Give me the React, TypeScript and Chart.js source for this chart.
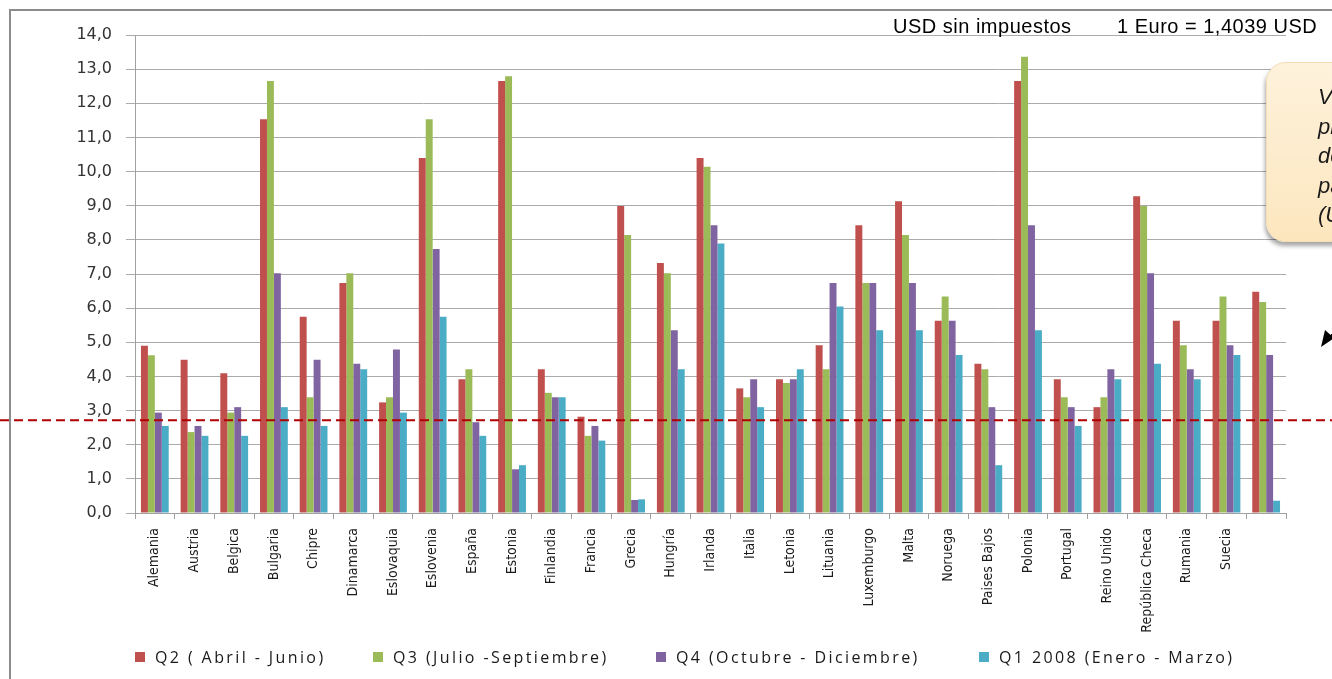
import React, { useEffect, useRef } from "react";
import { Chart, registerables } from "chart.js";

Chart.register(...registerables);

// ---- Data ----
const categories = [
  "Alemania", "Austria", "Belgica", "Bulgaria", "Chipre", "Dinamarca", "Eslovaquia",
  "Eslovenia", "España", "Estonia", "Finlandia", "Francia", "Grecia", "Hungría",
  "Irlanda", "Italia", "Letonia", "Lituania", "Luxemburgo", "Malta", "Noruega",
  "Paises Bajos", "Polonia", "Portugal", "Reino Unido", "República Checa", "Rumania",
  "Suecia", "",
];

const q2Values = [4.90, 4.49, 4.09, 11.53, 5.75, 6.74, 3.24, 10.40, 3.92, 12.65, 4.21, 2.82, 8.99, 7.32, 10.40, 3.65, 3.92, 4.91, 8.43, 9.13, 5.63, 4.37, 12.65, 3.92, 3.10, 9.28, 5.63, 5.63, 6.48];
const q3Values = [4.62, 2.37, 2.94, 12.65, 3.39, 7.02, 3.39, 11.53, 4.21, 12.79, 3.52, 2.26, 8.14, 7.02, 10.14, 3.39, 3.81, 4.21, 6.74, 8.14, 6.34, 4.21, 13.36, 3.39, 3.39, 8.99, 4.91, 6.34, 6.18];
const q4Values = [2.94, 2.55, 3.10, 7.02, 4.49, 4.37, 4.79, 7.73, 2.66, 1.28, 3.39, 2.55, 0.38, 5.35, 8.43, 3.92, 3.92, 6.74, 6.74, 6.74, 5.63, 3.10, 8.43, 3.10, 4.21, 7.02, 4.21, 4.91, 4.63];
const q1Values = [2.55, 2.26, 2.26, 3.10, 2.55, 4.21, 2.94, 5.75, 2.26, 1.40, 3.39, 2.12, 0.40, 4.21, 7.89, 3.10, 4.21, 6.05, 5.35, 5.35, 4.63, 1.40, 5.35, 2.55, 3.92, 4.37, 3.92, 4.63, 0.36];

const seriesLabels = [
  "Q2 ( Abril - Junio)",
  "Q3 (Julio -Septiembre)",
  "Q4 (Octubre - Diciembre)",
  "Q1 2008 (Enero - Marzo)",
];
const seriesColors = ["#C0504D", "#9BBB59", "#8064A2", "#4BACC6"];
const seriesValues = [q2Values, q3Values, q4Values, q1Values];

const yMin = 0;
const yMax = 14;
const yStep = 1;
const referenceValue = 2.72;

const headerLeft = "USD sin impuestos";
const headerRight = "1 Euro = 1,4039 USD";
const calloutLines = ["Valor", "promedio", "del precio", "para uso", "(USD/GJ)"];

// layout positions for the HTML legend items
const legendLeft = [135, 373, 656, 979];

const formatTick = (v: number | string) => Number(v).toFixed(1).replace(".", ",");

const refLinePlugin = {
  id: "refLine",
  afterDatasetsDraw(chart: any) {
    const y = chart.scales.y.getPixelForValue(referenceValue);
    const ctx = chart.ctx;
    ctx.save();
    ctx.strokeStyle = "#B00000";
    ctx.lineWidth = 2;
    ctx.setLineDash([9, 5]);
    ctx.beginPath();
    ctx.moveTo(0, y);
    ctx.lineTo(chart.width, y);
    ctx.stroke();
    ctx.restore();
  },
};

export default function App() {
  const canvasRef = useRef<HTMLCanvasElement | null>(null);

  useEffect(() => {
    if (!canvasRef.current) return;
    const chart = new Chart(canvasRef.current, {
      type: "bar",
      data: {
        labels: categories,
        datasets: seriesValues.map((vals, i) => ({
          label: seriesLabels[i],
          data: vals,
          backgroundColor: seriesColors[i],
          borderWidth: 0,
          categoryPercentage: 0.7,
          barPercentage: 1.0,
        })),
      },
      options: {
        responsive: false,
        animation: false,
        devicePixelRatio: 1,
        layout: { padding: { left: 0, right: 46, top: 35, bottom: 0 } },
        plugins: {
          legend: { display: false },
          tooltip: { enabled: false },
        },
        scales: {
          x: {
            grid: {
              display: true,
              drawOnChartArea: false,
              drawTicks: true,
              tickLength: 6,
              color: "#A0A0A0",
              offset: true,
            },
            border: { display: true, color: "#A0A0A0" },
            ticks: {
              autoSkip: false,
              maxRotation: 90,
              minRotation: 90,
              padding: 9,
              color: "#1a1a1a",
              font: {
                family: "'Liberation Sans Narrow', 'DejaVu Sans Condensed', sans-serif",
                size: 14,
              },
            },
            afterFit: (s: any) => {
              s.height = 166;
            },
          },
          y: {
            min: yMin,
            max: yMax,
            ticks: {
              stepSize: yStep,
              padding: 14,
              color: "#333333",
              font: { family: "'DejaVu Sans', sans-serif", size: 16 },
              callback: (v: any) => formatTick(v),
            },
            grid: { color: "#ABABAB", tickLength: 9, lineWidth: 1 },
            border: { display: true, color: "#A0A0A0" },
            afterFit: (s: any) => {
              s.width = 135;
            },
          },
        },
      },
      plugins: [refLinePlugin],
    });
    return () => chart.destroy();
  }, []);

  return (
    <div
      style={{
        position: "fixed",
        left: 0,
        top: 0,
        width: 1332,
        height: 679,
        overflow: "hidden",
        background: "#ffffff",
      }}
    >
      <div
        style={{
          position: "absolute",
          left: 9,
          top: 9,
          width: 1400,
          height: 720,
          border: "2px solid #8C8C8C",
        }}
      />
      <canvas
        ref={canvasRef}
        width={1332}
        height={679}
        style={{ position: "absolute", left: 0, top: 0 }}
      />
      <div
        style={{
          position: "absolute",
          left: 893,
          top: 15,
          fontFamily: "'Liberation Sans', Arial, sans-serif",
          fontSize: 20,
          lineHeight: "22px",
          letterSpacing: "0.5px",
          color: "#000",
          whiteSpace: "nowrap",
        }}
      >
        {headerLeft}
      </div>
      <div
        style={{
          position: "absolute",
          left: 1117,
          top: 15,
          fontFamily: "'Liberation Sans', Arial, sans-serif",
          fontSize: 20,
          lineHeight: "22px",
          letterSpacing: "0.5px",
          color: "#000",
          whiteSpace: "nowrap",
        }}
      >
        {headerRight}
      </div>
      <div
        style={{
          position: "absolute",
          left: 1266,
          top: 62,
          width: 200,
          height: 178,
          borderRadius: 20,
          background: "linear-gradient(#FEF2DC, #FCE6BE)",
          border: "1px solid #F4DDB4",
          boxShadow: "-1px 4px 4px rgba(0,0,0,0.35)",
          overflow: "hidden",
        }}
      >
        <div
          style={{
            position: "absolute",
            left: 51,
            top: 19,
            fontFamily: "'Liberation Sans', Arial, sans-serif",
            fontStyle: "italic",
            fontSize: 22,
            lineHeight: "29.5px",
            color: "#1a1a1a",
            whiteSpace: "nowrap",
          }}
        >
          {calloutLines.map((l, i) => (
            <div key={i}>{l}</div>
          ))}
        </div>
      </div>
      <svg
        width={1332}
        height={679}
        style={{ position: "absolute", left: 0, top: 0, pointerEvents: "none" }}
      >
        <line x1={1345} y1={320} x2={1326} y2={341} stroke="#000" strokeWidth={1.5} />
        <polygon points="1321,347 1325,330 1334,338" fill="#000" />
      </svg>
      {seriesLabels.map((label, i) => (
        <div
          key={label}
          style={{
            position: "absolute",
            left: legendLeft[i],
            top: 647,
            height: 20,
            display: "flex",
            alignItems: "center",
            whiteSpace: "nowrap",
          }}
        >
          <span
            style={{
              display: "inline-block",
              width: 10,
              height: 10,
              background: seriesColors[i],
              marginRight: 10,
            }}
          />
          <span
            style={{
              fontFamily: "'Open Sans', sans-serif",
              fontSize: 16,
              letterSpacing: "2.4px",
              color: "#1a1a1a",
              lineHeight: "20px",
            }}
          >
            {label}
          </span>
        </div>
      ))}
    </div>
  );
}
